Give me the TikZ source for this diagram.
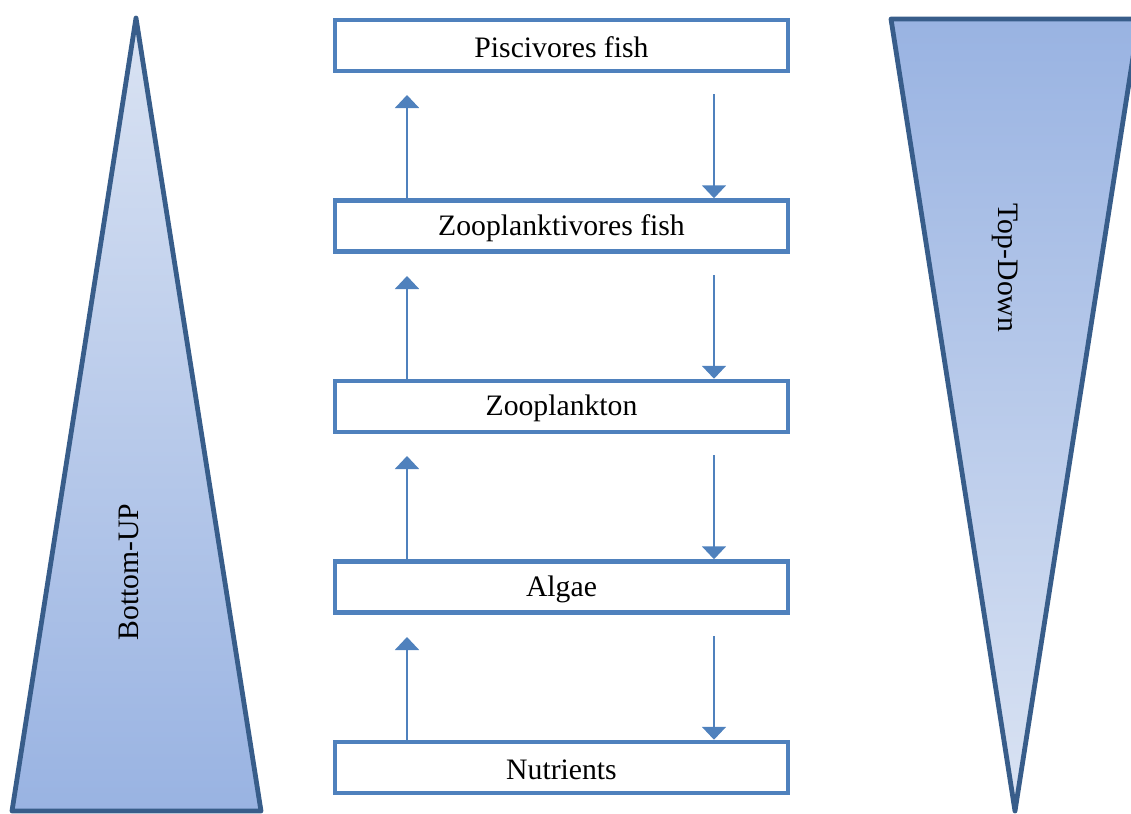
\documentclass[tikz,border=0pt]{standalone}
\usepackage{fontspec}
\setmainfont{Liberation Serif}
\usetikzlibrary{arrows.meta}
\definecolor{boxblue}{HTML}{4F81BD}
\definecolor{triedge}{HTML}{385D8A}
\definecolor{lightfill}{HTML}{DAE3F3}
\definecolor{darkfill}{HTML}{99B3E2}
\tikzset{
  level/.style={draw=boxblue, line width=2.25pt, fill=white, minimum width=226.5pt,
    minimum height=25.5pt, inner sep=0pt, font=\fontsize{14.85}{18}\selectfont},
  levtext/.style={font=\fontsize{14.85}{18}\selectfont, inner sep=0pt},
  flow/.style={draw=boxblue, line width=1pt, -{Triangle[width=12pt,length=6.5pt]}},
  tri/.style={draw=triedge, line width=2.4pt, line join=round},
  trilabel/.style={font=\fontsize{14.85}{18}\selectfont, inner sep=0pt}
}
\begin{document}
\begin{tikzpicture}[x=0.5pt,y=-0.5pt]
\useasboundingbox (0,0) rectangle (1131,814);
% triangles
\coordinate (la) at (136,18);
\coordinate (ll) at (12,811);
\coordinate (lr) at (261,811);
\draw[tri, top color=lightfill, bottom color=darkfill] (la) -- (lr) -- (ll) -- cycle;
\coordinate (rl) at (891,19);
\coordinate (rr) at (1139,19);
\coordinate (ra) at (1015,811);
\draw[tri, top color=darkfill, bottom color=lightfill] (rl) -- (rr) -- (ra) -- cycle;
\node[trilabel, rotate=90] (bu) at (129,572) {Bottom-UP};
\node[trilabel, rotate=-90] (td) at (1005,268) {Top-Down};
% boxes
\node[level] (p) at (561.5,45.5) {};
\node[level] (zf) at (561.5,226) {};
\node[level] (zp) at (561.5,406.5) {};
\node[level] (al) at (561.5,587) {};
\node[level] (nu) at (561.5,767.5) {};
\node[levtext] (pt) at ([yshift=-1pt]p.center) {Piscivores fish};
\node[levtext] (zft) at ([yshift=-1pt]zf.center) {Zooplanktivores fish};
\node[levtext] (zpt) at ([yshift=-1pt]zp.center) {Zooplankton};
\node[levtext] (alt) at ([yshift=-1pt]al.center) {Algae};
\node[levtext] (nut) at ([yshift=-1pt]nu.center) {Nutrients};
% arrows
\coordinate (ux) at (407,0);
\coordinate (dx) at (714,0);
\coordinate (u1) at (407,95);
\coordinate (u2) at (407,276);
\coordinate (u3) at (407,456);
\coordinate (u4) at (407,637);
\coordinate (d1) at (714,94);
\coordinate (d2) at (714,275);
\coordinate (d3) at (714,455);
\coordinate (d4) at (714,636);
\draw[flow] (zf.north -| ux) -- (u1);
\draw[flow] (zp.north -| ux) -- (u2);
\draw[flow] (al.north -| ux) -- (u3);
\draw[flow] (nu.north -| ux) -- (u4);
\draw[flow] (d1) -- (zf.north -| dx);
\draw[flow] (d2) -- (zp.north -| dx);
\draw[flow] (d3) -- (al.north -| dx);
\draw[flow] (d4) -- (nu.north -| dx);
\end{tikzpicture}
\end{document}
